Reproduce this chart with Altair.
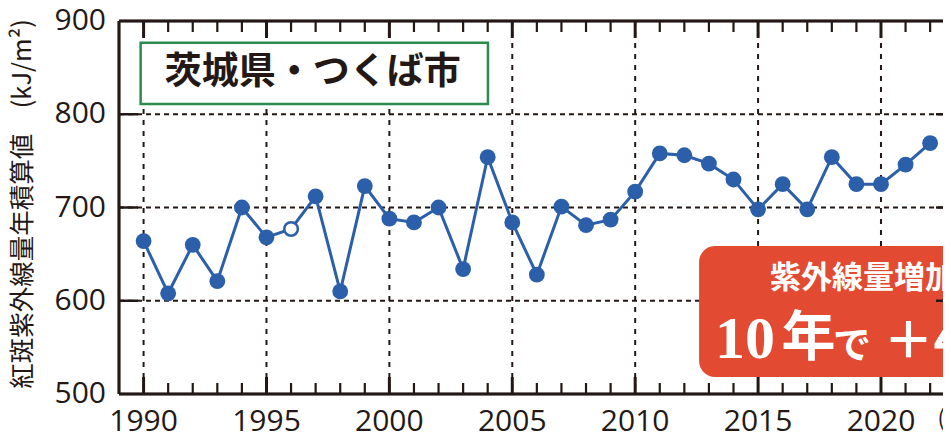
import altair as alt
import pandas as pd

# ---- data ----
years = list(range(1990, 2023))
values = [664, 608, 660, 621, 700, 668, 677, 712, 610, 723,
          688, 684, 700, 634, 754, 684, 628, 701, 681, 687,
          717, 758, 756, 747, 730, 698, 725, 698, 754, 725,
          725, 746, 769]
hollow_years = [1996]
x_label_years = [1990, 1995, 2000, 2005, 2010, 2015, 2020]
y_label_values = [500, 600, 700, 800, 900]
grid_values = [600, 700, 800]
minor_tick_years = [y for y in range(1990, 2023) if y % 5 != 0]
major_tick_years = x_label_years

y_title = "紅斑紫外線量年積算値　(kJ/m²)"
place_label = "茨城県・つくば市"
box_line1 = "紫外線量増加"
box_line2a = "10"
box_line2b = "年"
box_line2c = "で"
box_line2d = "＋4%"
year_unit = "(年)"

# ---- styling ----
W, H = 824, 373
INK = "#231815"
BLUE = "#2c5faa"
RED = "#e24b32"
GREEN = "#2e8b4e"
XMAX = 1989 + W / 24.58

xs = alt.Scale(domain=[1989, XMAX], nice=False, zero=False)
ys = alt.Scale(domain=[500, 900], nice=False, zero=False)

df = pd.DataFrame({"year": years, "value": values})
df["hollow"] = df["year"].isin(hollow_years)

grid_h = pd.DataFrame({"v": grid_values})
grid_v = pd.DataFrame({"yr": x_label_years})
minor_df = pd.DataFrame({"yr": minor_tick_years})
major_df = pd.DataFrame({"yr": major_tick_years})
xlab_df = pd.DataFrame({"yr": x_label_years, "lab": [str(v) for v in x_label_years]})
ylab_df = pd.DataFrame({"v": y_label_values, "lab": [str(v) for v in y_label_values]})


def X(f):
    return alt.X(f, scale=xs, axis=None)


def Y(f):
    return alt.Y(f, scale=ys, axis=None)


def xd(v):
    return alt.XDatum(v, scale=xs, axis=None)


def yd(v):
    return alt.YDatum(v, scale=ys, axis=None)


# gridlines
hgrid = alt.Chart(grid_h).mark_rule(color=INK, strokeWidth=2, strokeDash=[5, 4]).encode(
    y=Y("v:Q"), x=alt.value(0), x2=alt.value(W))
vgrid = alt.Chart(grid_v).mark_rule(color=INK, strokeWidth=2, strokeDash=[5, 6]).encode(
    x=X("yr:Q"), y=alt.value(0), y2=alt.value(H))

# inward ticks
bot_minor = alt.Chart(minor_df).mark_rule(color=INK, strokeWidth=2.2).encode(
    x=X("yr:Q"), y=alt.value(H), y2=alt.value(H - 11))
bot_major = alt.Chart(major_df).mark_rule(color=INK, strokeWidth=3).encode(
    x=X("yr:Q"), y=alt.value(H), y2=alt.value(H - 17))
top_minor = alt.Chart(minor_df).mark_rule(color=INK, strokeWidth=2.2).encode(
    x=X("yr:Q"), y=alt.value(0), y2=alt.value(11))
top_major = alt.Chart(major_df).mark_rule(color=INK, strokeWidth=3).encode(
    x=X("yr:Q"), y=alt.value(0), y2=alt.value(17))
left_ticks = alt.Chart(grid_h).mark_rule(color=INK, strokeWidth=2.5).encode(
    y=Y("v:Q"), x=alt.value(0), x2=alt.value(19))
right_ticks = alt.Chart(grid_h).mark_rule(color=INK, strokeWidth=2.5).encode(
    y=Y("v:Q"), x=alt.value(W - 7), x2=alt.value(W))

# frame
frame_top = alt.Chart(grid_h).mark_rule(color=INK, strokeWidth=2.5).encode(
    y=alt.value(0), x=alt.value(0), x2=alt.value(W))
frame_bot = alt.Chart(grid_h).mark_rule(color=INK, strokeWidth=2.5).encode(
    y=alt.value(H), x=alt.value(0), x2=alt.value(W))
frame_left = alt.Chart(grid_h).mark_rule(color=INK, strokeWidth=2.5).encode(
    x=alt.value(0), y=alt.value(0), y2=alt.value(H))

# axis labels & title (as text through the scales)
xlabels = alt.Chart(xlab_df).mark_text(font="Open Sans", fontSize=30, color=INK,
                                       align="center", baseline="top").encode(
    x=X("yr:Q"), y=alt.value(H + 13), text="lab:N")
ylabels = alt.Chart(ylab_df).mark_text(font="Open Sans", fontSize=30, color=INK,
                                       align="right", baseline="middle").encode(
    y=Y("v:Q"), x=alt.value(-13), text="lab:N")
ytitle = alt.Chart(pd.DataFrame({"t": [y_title]})).mark_text(
    font="Noto Sans CJK JP", fontSize=25.5, color=INK, angle=270,
    align="center", baseline="middle").encode(
    x=alt.value(-96), y=alt.value(183), text="t:N")

# series
line = alt.Chart(df).mark_line(color=BLUE, strokeWidth=3).encode(
    x=X("year:Q"), y=Y("value:Q"))
pts = alt.Chart(df).mark_circle(color=BLUE, size=250, opacity=1).encode(
    x=X("year:Q"), y=Y("value:Q")).transform_filter("!datum.hollow")
hollow = alt.Chart(df).mark_circle(fill="white", stroke=BLUE, strokeWidth=2.5,
                                   size=185, opacity=1).encode(
    x=X("year:Q"), y=Y("value:Q")).transform_filter("datum.hollow")

# annotations
anno = pd.DataFrame({"a": [0]})

green_box = alt.Chart(anno).mark_rect(fill="white", stroke=GREEN, strokeWidth=2.5).encode(
    x=xd(1989.88), x2=alt.X2Datum(2004.01), y=yd(876.7), y2=alt.Y2Datum(811))
green_txt = alt.Chart(anno).mark_text(text=place_label, font="Noto Sans CJK JP",
                                      fontWeight="bold", fontSize=37, color=INK,
                                      align="center", baseline="middle").encode(
    x=xd(1996.88), y=yd(844))

red_box = alt.Chart(anno).mark_rect(fill=RED, cornerRadius=16).encode(
    x=xd(2012.6), x2=alt.value(W + 40), y=yd(658.7), y2=alt.Y2Datum(518.2))
red_t1 = alt.Chart(anno).mark_text(text=box_line1, font="Noto Sans CJK JP",
                                   fontWeight="bold", fontSize=31, color="white",
                                   align="left", baseline="middle").encode(
    x=xd(2015.48), y=yd(623.3))
red_t2a = alt.Chart(anno).mark_text(text=box_line2a, font="Liberation Serif",
                                    fontWeight="bold", fontSize=60, color="white",
                                    align="left", baseline="alphabetic").encode(
    x=xd(2013.25), y=yd(538.6))
red_t2b = alt.Chart(anno).mark_text(text=box_line2b, font="Noto Sans CJK JP",
                                    fontWeight="bold", fontSize=54, color="white",
                                    align="left", baseline="alphabetic").encode(
    x=xd(2015.95), y=yd(540.5))
red_t2c = alt.Chart(anno).mark_text(text=box_line2c, font="Noto Sans CJK JP",
                                    fontWeight="bold", fontSize=38, color="white",
                                    align="left", baseline="alphabetic").encode(
    x=xd(2018.05), y=yd(538.6))
red_t2d = alt.Chart(anno).mark_text(text=box_line2d, font="Noto Sans CJK JP",
                                    fontWeight="bold", fontSize=50, color="white",
                                    align="left", baseline="alphabetic").encode(
    x=xd(2020.1), y=yd(538.6))

unit_txt = alt.Chart(anno).mark_text(text=year_unit, font="Noto Sans CJK JP",
                                     fontSize=22, color=INK, align="left",
                                     baseline="top").encode(
    x=xd(2022.3), y=alt.value(H + 15))

chart = alt.layer(
    hgrid, vgrid, line, pts, hollow,
    green_box, green_txt, red_box, red_t1, red_t2a, red_t2b, red_t2c, red_t2d,
    bot_minor, bot_major, top_minor, top_major, left_ticks, right_ticks,
    frame_top, frame_bot, frame_left,
    xlabels, ylabels, ytitle, unit_txt,
).properties(
    width=W, height=H,
    autosize=alt.AutoSizeParams(type="none"),
    padding={"left": 111, "top": 13, "right": 0, "bottom": 38},
    background="white",
).configure_view(stroke=None)

chart.save("out.html", embed_options={"renderer": "svg", "actions": False})
